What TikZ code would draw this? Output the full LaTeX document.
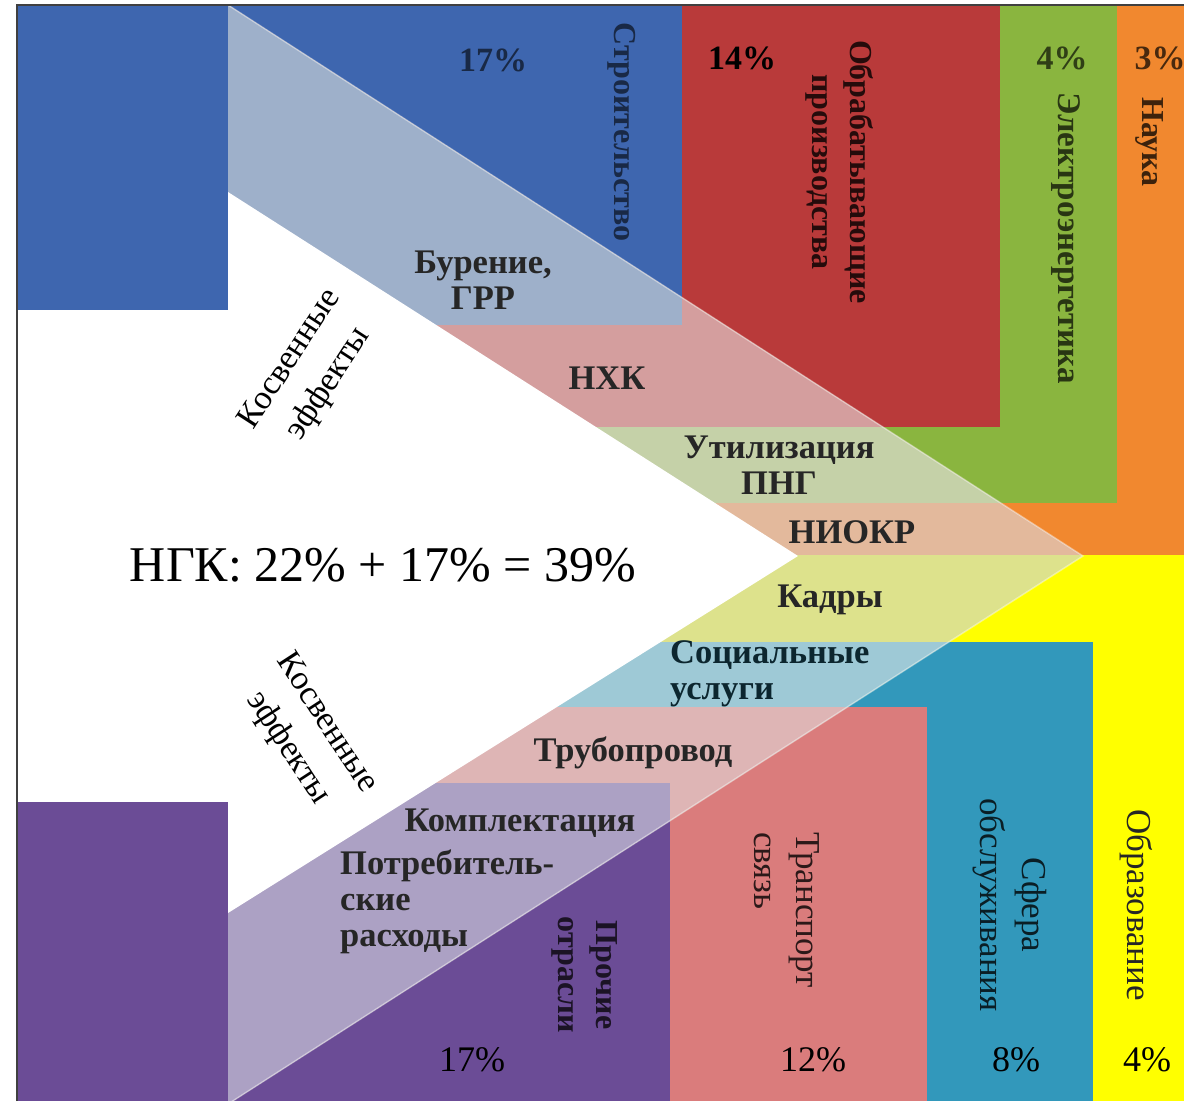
\documentclass[tikz,border=0pt]{standalone}
\usepackage{fontspec}
\setmainfont{Liberation Serif}

\definecolor{cBlue}{RGB}{62,102,175}
\definecolor{cBlueL}{RGB}{158,176,202}
\definecolor{cRed}{RGB}{185,58,58}
\definecolor{cRedL}{RGB}{212,158,158}
\definecolor{cGreen}{RGB}{138,181,63}
\definecolor{cGreenL}{RGB}{197,209,168}
\definecolor{cOrange}{RGB}{241,136,47}
\definecolor{cOrangeL}{RGB}{227,185,156}
\definecolor{cYellow}{RGB}{255,255,0}
\definecolor{cYellowL}{RGB}{221,226,140}
\definecolor{cTeal}{RGB}{50,152,187}
\definecolor{cTealL}{RGB}{158,201,214}
\definecolor{cSalmon}{RGB}{218,124,124}
\definecolor{cSalmonL}{RGB}{222,181,181}
\definecolor{cPurple}{RGB}{107,76,150}
\definecolor{cPurpleL}{RGB}{172,161,196}

\tikzset{
  lbl/.style={font=\fontsize{34.5}{36}\selectfont\bfseries, text=black!85, align=center, inner sep=0pt},
  vlbl/.style={lbl, font=\fontsize{32}{38}\selectfont\bfseries, rotate=-90},
  vthin/.style={vlbl, font=\fontsize{35}{42}\selectfont},
  pct/.style={font=\fontsize{34}{38}\selectfont\bfseries, inner sep=0pt},
  pctb/.style={font=\fontsize{36}{40}\selectfont, inner sep=0pt},
  side/.style={font=\fontsize{34}{46}\selectfont, align=center, inner sep=0pt},
}

\begin{document}
\begin{tikzpicture}[x=1pt,y=-1pt]
\useasboundingbox (0,0) rectangle (1184,1101);
\clip (0,0) rectangle (1184,1101);
% sectors
\fill[cOrange] (17,5) rectangle (1184,555);
\fill[cGreen] (17,5) rectangle (1117,503);
\fill[cRed] (17,5) rectangle (1000,427);
\fill[cBlue] (17,5) rectangle (682,325);
\fill[cYellow] (17,555) rectangle (1184,1101);
\fill[cTeal] (17,642) rectangle (1093,1101);
\fill[cSalmon] (17,707) rectangle (927,1101);
\fill[cPurple] (17,783) rectangle (670,1101);
\fill[white] (17,310) rectangle (228,802);
% bands inside the arrow
\begin{scope}
\clip (228,5) -- (1083,556) -- (228,1104) -- cycle;
\fill[cOrangeL] (17,5) rectangle (1184,555);
\fill[cGreenL] (17,5) rectangle (1117,503);
\fill[cRedL] (17,5) rectangle (1000,427);
\fill[cBlueL] (17,5) rectangle (682,325);
\fill[cYellowL] (17,555) rectangle (1184,1101);
\fill[cTealL] (17,642) rectangle (1093,1101);
\fill[cSalmonL] (17,707) rectangle (927,1101);
\fill[cPurpleL] (17,783) rectangle (670,1101);
\end{scope}
\fill[white] (228,192) -- (798,556) -- (228,913) -- cycle;
\draw[white, opacity=.4, line width=1.5pt] (228,5) -- (1083,556) -- (228,1104);
\draw[black!75, line width=1.5pt] (17,1101) -- (17,5) -- (1184,5);

% top sectors
\node[pct, text=cBlue!40!black] (p17t) at (493,60) {17\%};
\node[vlbl, text=cBlue!40!black] (stroi) at (622,132) {Строительство};
\node[pct] (p14) at (742,58) {14\%};
\node[vlbl, text=cRed!20!black] (obrab) at (840,172) {Обрабатывающие\\производства};
\node[pct, text=cGreen!35!black] (p4t) at (1062,58) {4\%};
\node[vlbl, font=\fontsize{33}{38}\selectfont\bfseries, text=cGreen!30!black] (elektro) at (1066,238) {Электроэнергетика};
\node[pct, text=cOrange!30!black] (p3) at (1160,58) {3\%};
\node[vlbl, text=cOrange!25!black] (nauka) at (1150,142) {Наука};

% bands
\node[lbl] (bur) at (483,280) {Бурение,\\ГРР};
\node[lbl] (nhk) at (607,378) {НХК};
\node[lbl] (util) at (779,465) {Утилизация\\ПНГ};
\node[lbl] (niokr) at (852,532) {НИОКР};
\node[lbl] (kadry) at (830,600) {Кадры};
\node[lbl, align=left, anchor=west, text=cTeal!25!black] (soc) at (670,674) {Социальные\\услуги};
\node[lbl] (trub) at (633,753) {Трубопровод};
\node[lbl] (kompl) at (520,823) {Комплектация};
\node[lbl, align=left, anchor=west] (potr) at (340,902) {Потребитель-\\ские\\расходы};

% bottom sectors
\node[vlbl, text=cPurple!25!black] (proch) at (585,975) {Прочие\\отрасли};
\node[pctb] (p17b) at (472,1060) {17\%};
\node[vthin, align=left, anchor=west, text=cSalmon!20!black] (trans) at (787,832) {Транспорт\\связь};
\node[pctb] (p12) at (813,1060) {12\%};
\node[vthin, text=cTeal!20!black] (sfera) at (1010,905) {Сфера\\обслуживания};
\node[pctb] (p8) at (1016,1060) {8\%};
\node[vthin] (obraz) at (1136,905) {Образование};
\node[pctb] (p4b) at (1147,1060) {4\%};

% centre
\node[font=\fontsize{50}{54}\selectfont, inner sep=0pt] (ngk) at (383,565) {НГК: 22\% + 17\% = 39\%};
\node[side, rotate=57] (kosv1) at (310,372) {Косвенные\\эффекты};
\node[side, rotate=-57] (kosv2) at (307,736) {Косвенные\\эффекты};
\end{tikzpicture}
\end{document}
